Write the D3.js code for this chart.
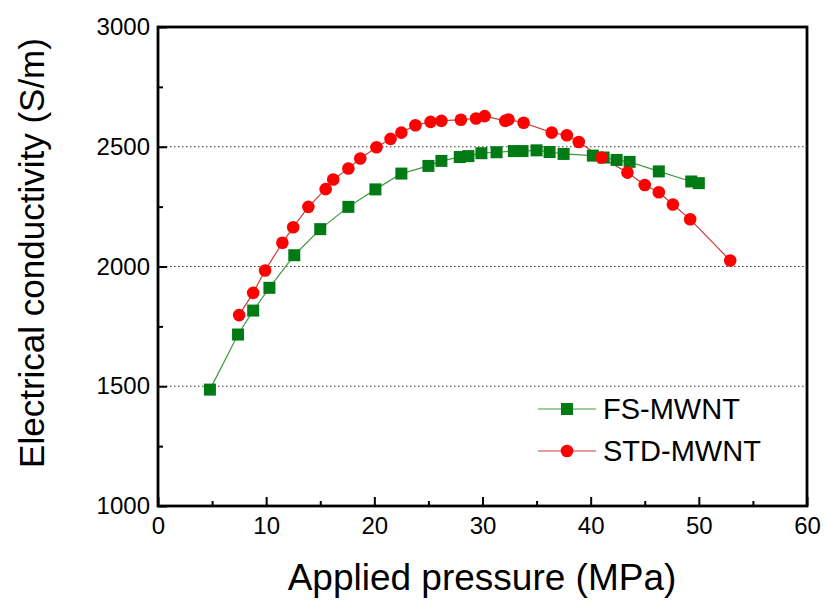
<!DOCTYPE html>
<html><head><meta charset="utf-8">
<script src="https://cdn.jsdelivr.net/npm/d3@7"></script>
<style>body{margin:0;background:#fff}svg{display:block}text{font-family:"Liberation Sans",Arial,sans-serif;fill:#000}</style>
</head><body><svg id="c" width="825" height="609"></svg>
<script>
const fsPressure = [4.8,7.4,8.8,10.3,12.6,15.0,17.6,20.1,22.5,25.0,26.2,27.9,28.7,29.9,31.3,32.9,33.7,35.0,36.2,37.5,40.2,41.2,42.4,43.6,46.3,49.3,50.0];
const fsCond     = [1486,1716,1816,1911,2047,2156,2249,2322,2388,2420,2441,2457,2461,2473,2477,2482,2482,2485,2478,2470,2463,2455,2445,2437,2397,2355,2348];
const stdPressure = [7.5,8.8,9.9,11.5,12.5,13.9,15.5,16.2,17.6,18.7,20.2,21.5,22.5,23.8,25.2,26.2,28.0,29.4,30.2,32.1,32.4,33.8,36.4,37.8,38.9,41.0,43.4,45.0,46.3,47.6,49.2,52.9];
const stdCond     = [1797,1890,1983,2099,2164,2249,2323,2363,2409,2451,2498,2533,2559,2590,2604,2608,2613,2618,2628,2608,2614,2600,2559,2548,2520,2455,2392,2340,2310,2259,2197,2025];
const xTicks = [0,10,20,30,40,50,60];
const yTicks = [1000,1500,2000,2500,3000];
const gridValues = [1500,2000,2500];
const seriesNames = ["FS-MWNT","STD-MWNT"];

const svg = d3.select("#c");
const L=158, R=807, T=27, B=506;
const x = d3.scaleLinear().domain([0,60]).range([L,R]);
const y = d3.scaleLinear().domain([1000,3000]).range([B,T]);

// grid
svg.append("g").selectAll("line").data(gridValues).join("line")
  .attr("x1",L).attr("x2",R).attr("y1",d=>y(d)).attr("y2",d=>y(d))
  .attr("stroke","#333").attr("stroke-width",1).attr("stroke-dasharray","1.5,2.5");

// axes with inward ticks
const xMinor = d3.range(5,60,10);
const yMinor = d3.range(1250,3000,500);
const gx = svg.append("g").attr("transform",`translate(0,${B})`)
  .call(d3.axisBottom(x).tickValues(xTicks).tickSize(-9).tickPadding(16).tickFormat(d3.format("d")));
const gxm = svg.append("g").attr("transform",`translate(0,${B})`)
  .call(d3.axisBottom(x).tickValues(xMinor).tickSize(-5).tickFormat(""));
const gy = svg.append("g").attr("transform",`translate(${L},0)`)
  .call(d3.axisLeft(y).tickValues(yTicks).tickSize(-9).tickPadding(8).tickFormat(d3.format("d")));
const gym = svg.append("g").attr("transform",`translate(${L},0)`)
  .call(d3.axisLeft(y).tickValues(yMinor).tickSize(-5).tickFormat(""));
[gx,gxm,gy,gym].forEach(g=>{
  g.select(".domain").remove();
  g.selectAll(".tick line").attr("stroke","#000").attr("stroke-width",2);
  g.selectAll("text").style("font-size","24px").attr("fill","#000");
});
gx.selectAll("text").attr("dy","0.5em");

// frame
svg.append("rect").attr("x",L).attr("y",T).attr("width",R-L).attr("height",B-T)
  .attr("fill","none").attr("stroke","#000").attr("stroke-width",2.8);

const fs = fsPressure.map((p,i)=>[p,fsCond[i]]);
const sd = stdPressure.map((p,i)=>[p,stdCond[i]]);
const line = d3.line().x(d=>x(d[0])).y(d=>y(d[1]));

svg.append("path").attr("d",line(fs)).attr("fill","none").attr("stroke","#3f9b3f").attr("stroke-width",1.2);
svg.append("path").attr("d",line(sd)).attr("fill","none").attr("stroke","#cc3c3c").attr("stroke-width",1.2);

svg.append("g").selectAll("rect").data(fs).join("rect")
  .attr("x",d=>x(d[0])-6).attr("y",d=>y(d[1])-6).attr("width",12).attr("height",12)
  .attr("fill","#007a14");
svg.append("g").selectAll("circle").data(sd).join("circle")
  .attr("cx",d=>x(d[0])).attr("cy",d=>y(d[1])).attr("r",6.3)
  .attr("fill","#ff0000");

// legend
const lg = svg.append("g");
const rows = [{name:seriesNames[0],c:"#3f9b3f",m:"#007a14",sq:true,yy:409},{name:seriesNames[1],c:"#cc3c3c",m:"#ff0000",sq:false,yy:451}];
rows.forEach(r=>{
  lg.append("line").attr("x1",538).attr("x2",596).attr("y1",r.yy).attr("y2",r.yy).attr("stroke",r.c).attr("stroke-width",1.2);
  if(r.sq) lg.append("rect").attr("x",561).attr("y",r.yy-6).attr("width",12).attr("height",12).attr("fill",r.m);
  else lg.append("circle").attr("cx",567).attr("cy",r.yy).attr("r",6.3).attr("fill",r.m);
  lg.append("text").attr("x",603).attr("y",r.yy+10).style("font-size","29px").text(r.name);
});

// titles
svg.append("text").attr("x",482).attr("y",590).attr("text-anchor","middle").style("font-size","37px").text("Applied pressure (MPa)");
svg.append("text").attr("transform","translate(44,253) rotate(-90)").attr("text-anchor","middle").style("font-size","35px").text("Electrical conductivity (S/m)");
</script></body></html>
